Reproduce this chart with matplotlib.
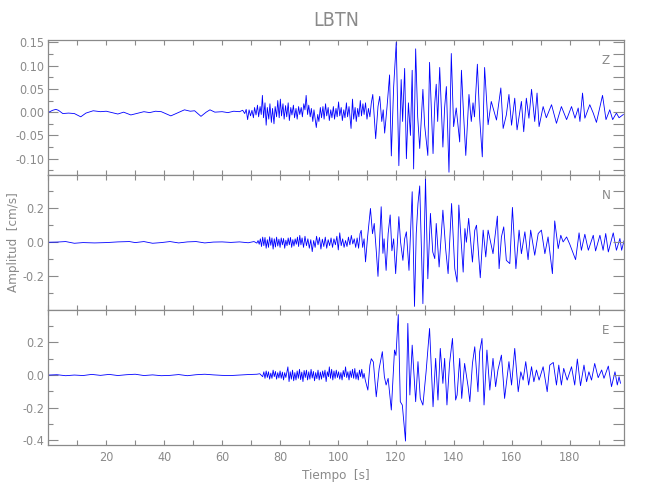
import matplotlib
matplotlib.use("Agg")
import matplotlib.pyplot as plt
from matplotlib.ticker import MultipleLocator, FixedLocator, NullFormatter

plt.rcParams['font.family'] = ['DejaVu Sans']
plt.rcParams['font.stretch'] = 'condensed'

gris = '#8a8a8a'
azul = '#0000ff'

# componente Z  (tiempo [s], amplitud [cm/s])
t_z = [0.2, 1.5, 2.6, 3.5, 5.0, 7.0, 9.0, 11.2, 13.0, 15.5, 18.0, 20.0, 22.0, 24.0, 26.0, 28.5,
       31.0, 33.0, 35.0, 37.0, 39.0, 42.3, 44.5, 47.0, 49.0, 50.5, 52.7, 54.5, 55.8, 57.5, 60.0,
       62.0, 64.0, 66.0, 67.1, 67.8, 68.3, 68.8, 69.3, 69.8, 70.3, 70.8, 71.2, 71.7, 72.2, 72.6,
       73.1, 73.5, 73.9, 74.3, 74.8, 75.2, 75.6, 76.1, 76.5, 77.0, 77.4, 77.9, 78.3, 78.8, 79.2,
       79.7, 80.1, 80.5, 81.0, 81.4, 81.9, 82.3, 82.8, 83.2, 83.7, 84.1, 84.6, 85.0, 85.5, 85.9,
       86.4, 86.8, 87.3, 87.7, 88.2, 88.6, 89.0, 89.5, 89.9, 90.4, 90.8, 91.3, 91.7, 92.5, 93.0,
       93.4, 93.9, 94.3, 94.8, 95.2, 95.7, 96.1, 96.6, 97.0, 97.5, 97.9, 98.4, 98.8, 99.3, 99.7,
       100.2, 100.6, 101.1, 101.5, 102.0, 102.4, 102.9, 103.3, 103.8, 104.5, 105.0, 105.4, 105.9,
       106.3, 106.8, 107.2, 107.7, 108.1, 108.6, 109.0, 109.5, 110.0, 110.5, 111.0, 111.5, 112.0,
       113.0, 113.8, 114.4, 115.1, 115.6, 116.1, 116.9, 117.8, 118.4, 119.2, 120.1, 121.0, 121.8,
       122.3, 123.0, 123.6, 124.3, 125.0, 125.6, 126.1, 126.8, 127.5, 128.2, 129.3, 129.9, 131.0,
       131.6, 132.8, 133.4, 133.9, 134.4, 135.1, 136.2, 136.8, 137.4, 138.3, 139.1, 139.9, 140.8,
       142.0, 142.6, 143.3, 144.1, 145.2, 146.0, 146.6, 147.1, 148.1, 148.9, 149.8, 150.6, 151.8,
       152.9, 154.7, 156.2, 157.0, 158.1, 159.0, 159.9, 161.0, 161.8, 163.3, 164.1, 165.0, 165.9,
       166.8, 167.9, 168.7, 169.4, 170.8, 171.9, 173.7, 175.4, 177.1, 178.9, 180.6, 181.8, 182.9,
       183.5, 184.4, 185.2, 186.9, 188.1, 189.2, 191.3, 192.5, 193.8, 194.8, 196.1, 197.0, 198.5]
z_amp = [0.000, 0.004, 0.006, 0.004, -0.003, -0.002, -0.003, -0.010, -0.002, 0.003, 0.001, 0.002,
         -0.001, -0.004, 0.000, -0.006, -0.002, 0.001, -0.001, 0.002, 0.001, -0.008, -0.002, 0.005,
         0.002, 0.003, -0.009, 0.000, 0.005, 0.000, 0.001, -0.001, 0.002, 0.001, 0.004, -0.003,
         0.006, -0.016, 0.005, -0.008, 0.004, -0.012, 0.010, -0.006, 0.015, -0.010, 0.012, -0.005,
         0.036, -0.012, 0.020, -0.028, 0.010, -0.015, 0.018, -0.022, 0.008, -0.025, 0.012, -0.010,
         0.025, -0.012, 0.028, -0.008, 0.018, -0.015, 0.014, -0.010, 0.020, -0.018, 0.010, -0.006,
         0.015, -0.012, 0.008, -0.015, 0.012, -0.005, 0.010, -0.010, 0.018, 0.005, 0.036, -0.005,
         0.015, -0.010, 0.008, -0.020, 0.005, -0.033, -0.005, -0.020, 0.010, -0.012, 0.012, -0.015,
         0.018, -0.008, 0.010, -0.018, 0.005, -0.012, 0.012, -0.015, 0.008, -0.010, 0.022, -0.008,
         0.010, -0.018, 0.005, -0.012, 0.020, -0.010, 0.012, -0.035, 0.028, -0.015, 0.010, -0.020,
         0.008, -0.010, 0.025, -0.008, 0.018, -0.005, 0.020, -0.015, 0.008, -0.010, 0.020, 0.038,
         -0.057, 0.012, 0.034, -0.020, 0.005, -0.045, 0.010, 0.080, -0.094, 0.054, 0.150, -0.115,
         0.070, -0.020, 0.094, -0.100, 0.020, -0.050, 0.090, -0.122, 0.136, -0.010, -0.078, 0.049,
         -0.028, -0.093, 0.107, -0.089, 0.020, 0.060, -0.020, 0.096, -0.075, 0.010, 0.055, -0.129,
         0.126, -0.031, 0.009, -0.064, 0.090, 0.000, -0.093, 0.038, -0.020, 0.020, -0.010, 0.103,
         -0.013, -0.096, 0.096, -0.027, 0.023, -0.017, 0.052, -0.035, -0.006, 0.038, -0.028, 0.030,
         -0.038, 0.023, -0.042, 0.030, -0.013, 0.049, -0.020, 0.041, -0.031, 0.012, -0.012, 0.016,
         -0.024, 0.012, -0.016, 0.012, -0.013, 0.009, -0.020, 0.041, -0.013, 0.016, -0.002, -0.022,
         0.036, -0.016, 0.005, -0.016, -0.002, -0.012, -0.005]

# componente N
t_n = [0.2, 3.0, 6.0, 9.0, 12.0, 16.0, 20.0, 24.0, 28.0, 30.0, 33.0, 36.0, 39.0, 42.0, 45.0, 48.0,
       51.0, 54.0, 57.0, 60.0, 63.0, 66.0, 69.0, 71.0, 72.0, 72.4, 72.8, 73.2, 73.6, 74.0, 74.4,
       74.8, 75.2, 75.6, 76.0, 76.4, 76.8, 77.2, 77.6, 78.0, 78.4, 78.8, 79.2, 79.6, 80.0, 80.4,
       80.8, 81.2, 81.6, 82.0, 82.4, 82.8, 83.2, 83.6, 84.0, 84.4, 84.8, 85.2, 85.6, 86.0, 86.4,
       86.8, 87.2, 87.6, 88.1, 88.6, 89.1, 89.6, 90.1, 90.6, 91.1, 91.6, 92.1, 92.6, 93.1, 93.6,
       94.1, 94.6, 95.1, 95.6, 96.1, 96.6, 97.1, 97.6, 98.1, 98.6, 99.1, 99.6, 100.1, 100.6, 101.1,
       101.6, 102.1, 102.6, 103.1, 103.6, 104.1, 104.6, 105.1, 105.6, 106.1, 106.6, 107.1, 107.6,
       108.0, 108.5, 109.0, 109.5, 110.2, 111.2, 111.9, 112.5, 113.2, 113.8, 114.9, 115.5, 115.9,
       116.6, 117.3, 118.0, 118.6, 119.2, 119.9, 121.0, 121.6, 122.4, 123.0, 123.6, 124.5, 125.6,
       126.4, 127.0, 127.6, 128.2, 129.3, 130.2, 131.0, 131.9, 132.7, 133.4, 133.9, 134.9, 136.2,
       137.2, 138.0, 139.2, 140.3, 141.1, 141.7, 143.2, 143.8, 144.3, 145.1, 146.4, 147.2, 147.8,
       149.1, 150.1, 151.0, 151.8, 153.5, 155.0, 155.6, 156.4, 157.2, 158.1, 159.3, 160.2, 161.4,
       162.5, 163.3, 164.5, 165.6, 166.5, 167.9, 169.1, 170.2, 171.4, 172.5, 174.0, 174.8, 176.0,
       176.9, 177.7, 178.9, 180.0, 182.0, 183.2, 184.0, 185.2, 186.4, 188.1, 188.9, 190.4, 191.5,
       192.4, 193.3, 195.0, 196.1, 197.3, 197.9, 198.7]
n_amp = [0.000, 0.001, 0.004, -0.006, -0.002, -0.004, -0.002, 0.002, 0.004, -0.002, 0.004, -0.006,
         -0.002, 0.004, -0.004, 0.002, 0.004, -0.004, 0.001, 0.002, -0.001, 0.002, -0.003, 0.004,
         -0.005, 0.010, -0.012, 0.020, -0.025, 0.030, -0.020, 0.028, -0.035, 0.015, -0.030, 0.032,
         -0.018, 0.025, -0.040, 0.020, -0.028, 0.030, -0.022, 0.018, -0.030, 0.025, -0.015, 0.022,
         -0.035, 0.012, -0.020, 0.025, -0.015, 0.028, -0.030, 0.015, -0.022, 0.020, -0.012, 0.030,
         -0.025, 0.040, -0.015, 0.025, -0.030, 0.035, -0.020, 0.020, -0.035, 0.015, -0.055, 0.010,
         -0.030, 0.035, -0.015, 0.028, -0.040, 0.018, -0.025, 0.030, -0.035, 0.015, -0.020, 0.025,
         -0.030, 0.020, -0.015, 0.035, -0.045, 0.055, -0.020, 0.020, -0.030, 0.010, -0.025, 0.030,
         -0.015, 0.040, -0.010, 0.020, -0.030, 0.025, -0.035, 0.050, 0.070, -0.030, 0.020, -0.115,
         0.030, 0.198, 0.050, 0.110, -0.050, -0.200, 0.208, -0.065, 0.020, -0.165, 0.050, 0.160,
         -0.050, 0.020, -0.184, 0.150, 0.000, -0.106, 0.020, 0.061, -0.165, 0.296, -0.376, 0.050,
         0.227, 0.330, -0.360, 0.370, -0.214, 0.169, -0.057, -0.096, 0.110, -0.145, 0.188, -0.047,
         -0.184, 0.227, -0.155, -0.233, 0.218, -0.175, 0.080, 0.000, 0.140, -0.116, 0.070, 0.100,
         -0.208, 0.071, -0.086, 0.071, -0.067, 0.153, -0.155, 0.031, 0.090, -0.106, -0.125, 0.204,
         -0.155, 0.071, -0.067, 0.061, -0.102, 0.071, -0.076, 0.051, 0.071, -0.067, 0.031, -0.184,
         0.125, -0.037, 0.041, 0.002, 0.031, -0.012, -0.102, 0.055, -0.047, 0.047, -0.047, 0.041,
         -0.051, 0.041, -0.047, 0.051, -0.057, 0.055, -0.047, 0.022, -0.047, 0.008]

# componente E
t_e = [0.2, 3.0, 6.0, 9.0, 12.0, 15.0, 18.0, 21.0, 24.0, 27.0, 30.0, 33.0, 36.0, 39.0, 42.0, 45.0,
       48.0, 51.0, 54.0, 57.0, 60.0, 63.0, 66.0, 69.0, 72.0, 73.0, 74.0, 74.4, 74.8, 75.2, 75.6,
       76.0, 76.4, 76.8, 77.2, 77.6, 78.0, 78.4, 78.8, 79.2, 79.6, 80.0, 80.4, 80.8, 81.2, 81.6,
       82.0, 82.7, 83.1, 83.5, 83.9, 84.3, 84.7, 85.1, 85.5, 85.9, 86.3, 86.7, 87.1, 87.5, 87.9,
       88.3, 88.7, 89.1, 89.5, 89.9, 90.3, 90.7, 91.1, 91.5, 91.9, 92.3, 92.7, 93.1, 93.5, 93.9,
       94.3, 94.7, 95.1, 95.5, 95.9, 96.3, 96.7, 97.0, 97.4, 97.8, 98.2, 98.6, 99.0, 99.4, 99.8,
       100.2, 100.6, 101.0, 101.4, 101.8, 102.2, 102.6, 103.0, 103.4, 103.8, 104.2, 104.6, 105.0,
       105.4, 105.8, 106.2, 106.6, 107.0, 107.4, 107.8, 108.2, 108.6, 109.0, 109.4, 110.3, 111.0,
       111.5, 112.2, 113.2, 114.2, 115.3, 116.0, 116.6, 117.3, 118.4, 119.5, 120.0, 120.8, 121.5,
       122.2, 123.3, 124.1, 124.8, 125.6, 126.8, 127.6, 128.4, 129.3, 130.4, 131.6, 132.8, 133.7,
       134.5, 135.3, 136.2, 136.8, 137.6, 138.5, 139.5, 140.6, 141.1, 142.0, 142.7, 143.7, 144.9,
       145.5, 146.4, 147.2, 148.3, 148.9, 149.7, 150.4, 151.4, 152.4, 153.5, 154.4, 155.2, 156.4,
       157.5, 159.0, 159.9, 161.0, 162.2, 163.1, 163.9, 164.8, 165.8, 166.8, 167.6, 168.5, 169.4,
       170.8, 172.2, 173.1, 174.3, 175.4, 176.2, 177.1, 177.9, 179.1, 180.6, 181.7, 182.6, 183.7,
       184.9, 185.8, 186.6, 187.5, 188.6, 189.8, 191.0, 191.8, 193.3, 194.4, 195.6, 196.4, 197.0,
       197.5]
e_amp = [0.000, 0.002, -0.004, 0.000, -0.003, 0.004, -0.002, 0.004, -0.003, 0.002, 0.005, -0.003,
         0.001, -0.004, -0.002, 0.003, -0.004, 0.002, 0.005, 0.001, -0.002, -0.003, 0.000, 0.003,
         0.005, 0.008, -0.010, 0.020, -0.020, 0.025, -0.015, 0.020, -0.025, 0.012, -0.020, 0.030,
         -0.010, 0.022, -0.025, 0.015, -0.018, 0.025, -0.020, 0.018, -0.030, 0.015, -0.015, 0.050,
         -0.040, 0.020, -0.025, 0.030, -0.035, 0.015, -0.030, 0.025, -0.020, 0.035, -0.028, 0.018,
         -0.040, 0.028, -0.015, 0.030, -0.030, 0.020, -0.025, 0.035, -0.018, 0.022, -0.035, 0.015,
         -0.022, 0.030, -0.030, 0.018, -0.025, 0.025, -0.015, 0.030, -0.040, 0.020, -0.010, 0.050,
         -0.020, 0.035, -0.030, 0.025, -0.020, 0.030, -0.015, 0.020, -0.025, 0.015, -0.030, 0.028,
         -0.010, 0.050, -0.015, 0.020, -0.030, 0.025, -0.015, 0.035, -0.020, 0.040, -0.025, 0.015,
         -0.030, 0.030, -0.010, 0.035, -0.020, 0.010, -0.030, -0.092, 0.060, 0.100, 0.080, -0.133,
         0.040, 0.143, -0.010, -0.061, -0.020, -0.214, 0.153, 0.120, 0.370, -0.163, -0.184, -0.404,
         0.316, -0.122, 0.183, -0.163, 0.082, -0.143, -0.184, 0.020, 0.285, -0.194, 0.102, -0.153,
         0.163, -0.051, 0.102, -0.183, 0.071, 0.224, -0.153, -0.122, 0.102, -0.143, 0.071, -0.071,
         -0.163, 0.071, 0.173, -0.102, 0.143, 0.224, -0.183, 0.153, -0.092, 0.102, -0.071, 0.031,
         0.122, -0.143, 0.082, -0.061, 0.163, -0.102, 0.020, -0.031, 0.082, -0.061, 0.051, -0.041,
         0.031, -0.031, 0.051, -0.102, 0.061, 0.077, -0.061, 0.061, -0.061, 0.041, -0.031, 0.051,
         -0.061, 0.098, -0.065, 0.061, -0.041, 0.020, -0.031, 0.071, -0.016, 0.031, -0.020, 0.055,
         -0.071, 0.020, -0.061, -0.010, -0.050]

componentes = ['Z', 'N', 'E']
tiempos = [t_z, t_n, t_e]
amplitudes = [z_amp, n_amp, e_amp]
limites_y = [(-0.135, 0.155), (-0.397, 0.394), (-0.428, 0.398)]
paso_mayor = [0.05, 0.2, 0.2]
paso_menor = [0.025, 0.1, 0.1]
formatos = ['%.2f', '%.1f', '%.1f']
xlim = (0.0, 198.6)

fig = plt.figure(figsize=(6.5, 5), dpi=100)
izq, ancho = 0.0743, 0.8852
bases = [0.65, 0.38, 0.11]
alto = 0.27

ejes = []
for i in range(3):
    ax = fig.add_axes([izq, bases[i], ancho, alto])
    ax.plot(tiempos[i], amplitudes[i], color=azul, lw=0.6)
    ax.set_xlim(*xlim)
    ax.set_ylim(*limites_y[i])
    ax.xaxis.set_major_locator(FixedLocator(list(range(20, 181, 20))))
    ax.xaxis.set_minor_locator(MultipleLocator(10))
    ax.yaxis.set_major_locator(MultipleLocator(paso_mayor[i]))
    ax.yaxis.set_minor_locator(MultipleLocator(paso_menor[i]))
    ax.yaxis.set_major_formatter(plt.FormatStrFormatter(formatos[i]))
    ax.tick_params(axis='x', which='both', direction='in', top=True, length=3.5,
                   color=gris, labelcolor=gris, labelsize=9, width=0.8, pad=4)
    ax.tick_params(axis='y', which='major', direction='in', length=7, color=gris,
                   labelcolor=gris, labelsize=9, width=0.8, pad=3)
    ax.tick_params(axis='y', which='minor', direction='in', length=3.5, color=gris, width=0.8)
    if i < 2:
        ax.xaxis.set_major_formatter(NullFormatter())
    for s in ax.spines.values():
        s.set_color(gris)
        s.set_linewidth(0.9)
    # marcas del lado derecho
    ax2 = ax.twinx()
    ax2.set_ylim(*limites_y[i])
    ax2.yaxis.set_major_locator(MultipleLocator(paso_menor[i]))
    ax2.yaxis.set_major_formatter(NullFormatter())
    ax2.tick_params(axis='y', direction='in', length=8, color=gris, width=0.8)
    for s in ax2.spines.values():
        s.set_visible(False)
    ax.text(0.969, 0.845, componentes[i], transform=ax.transAxes, ha='center', va='center',
            color=gris, fontsize=9.5)
    ejes.append(ax)

ejes[2].set_xlabel('Tiempo  [s]', color=gris, fontsize=9.5, labelpad=4)
fig.text(0.021, 0.515, 'Amplitud  [cm/s]', rotation=90, ha='center', va='center',
         color=gris, fontsize=9.5)
fig.text(izq + ancho / 2, 0.958, 'LBTN', ha='center', va='center', color=gris, fontsize=14)

fig.savefig('out.png', dpi=100)
